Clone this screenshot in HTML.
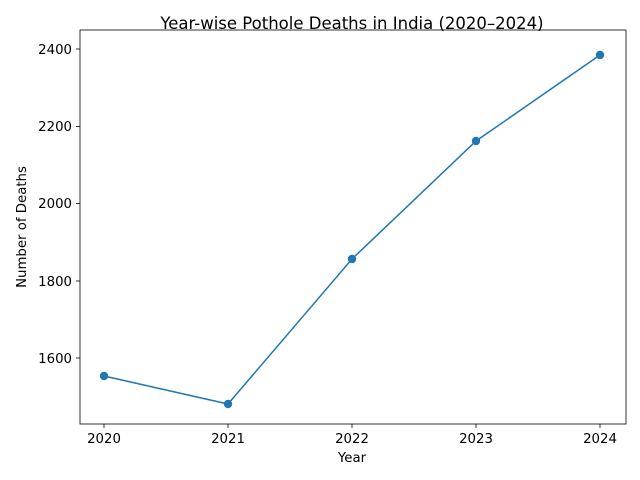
<!DOCTYPE html>
<html><head><meta charset="utf-8"><style>body{margin:0;background:#fff}svg{display:block}text{font-family:"DejaVu Sans","Liberation Sans",sans-serif;fill:#000}</style></head>
<body>
<svg width="640" height="480" viewBox="0 0 640 480" xmlns="http://www.w3.org/2000/svg">
<rect width="640" height="480" fill="#fff"/>
<text x="352" y="29" font-size="16.5" text-anchor="middle">Year-wise Pothole Deaths in India (2020–2024)</text>
<g stroke="#000" stroke-width="0.8">
<line x1="104" y1="424" x2="104" y2="428"/><line x1="228" y1="424" x2="228" y2="428"/><line x1="352" y1="424" x2="352" y2="428"/><line x1="476" y1="424" x2="476" y2="428"/><line x1="600" y1="424" x2="600" y2="428"/>
<line x1="76" y1="358" x2="80" y2="358"/><line x1="76" y1="281" x2="80" y2="281"/><line x1="76" y1="203.6" x2="80" y2="203.6"/><line x1="76" y1="126.4" x2="80" y2="126.4"/><line x1="76" y1="49" x2="80" y2="49"/>
</g>
<g font-size="13.3" text-anchor="middle">
<text x="104" y="443">2020</text><text x="228" y="443">2021</text><text x="352" y="443">2022</text><text x="476" y="443">2023</text><text x="600" y="443">2024</text>
</g>
<g font-size="13.3" text-anchor="end">
<text x="72" y="363">1600</text><text x="72" y="286">1800</text><text x="72" y="208">2000</text><text x="72" y="131">2200</text><text x="72" y="54">2400</text>
</g>
<text x="352" y="462" font-size="13.3" text-anchor="middle">Year</text>
<text transform="translate(26,227) rotate(-90)" font-size="13.3" text-anchor="middle">Number of Deaths</text>
<polyline points="104,376 228,404 352,259 476,141 600,55" fill="none" stroke="#1f77b4" stroke-width="1.5"/>
<g fill="#1f77b4"><circle cx="104" cy="376" r="4.2"/><circle cx="228" cy="404" r="4.2"/><circle cx="352" cy="259" r="4.2"/><circle cx="476" cy="141" r="4.2"/><circle cx="600" cy="55" r="4.2"/></g>
<rect x="80" y="30" width="546" height="394" fill="none" stroke="#000" stroke-width="0.8"/>
</svg>
</body></html>
